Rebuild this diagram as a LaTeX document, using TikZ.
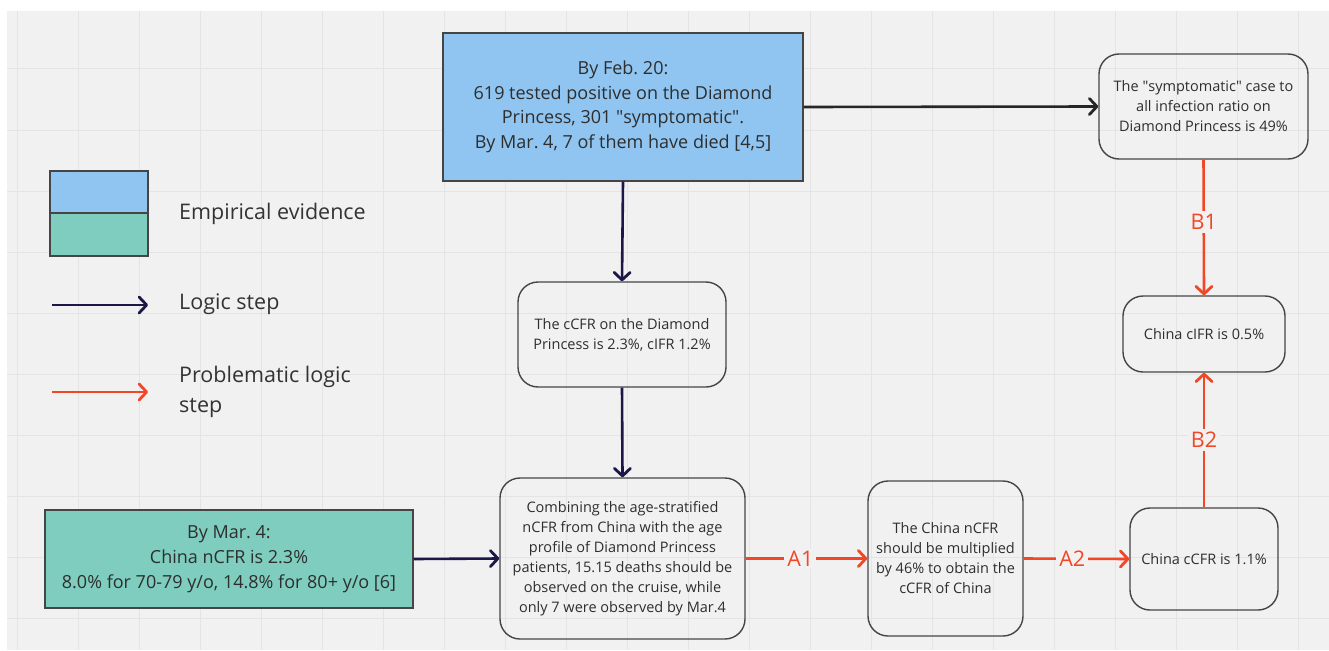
\documentclass[tikz,border=0pt]{standalone}
\usepackage{fontspec}
\setmainfont{Open Sans}
\usetikzlibrary{arrows.meta}
\definecolor{bgc}{HTML}{F1F1F1}
\definecolor{gridc}{HTML}{E4E4E4}
\definecolor{evblue}{HTML}{8FC5F0}
\definecolor{evgreen}{HTML}{7ECDBE}
\definecolor{navyc}{HTML}{1B1848}
\definecolor{redc}{HTML}{F24726}
\definecolor{boxline}{HTML}{454545}
\definecolor{txtc}{HTML}{2E2E2E}
\newcommand{\qq}{\textquotedbl}
\tikzset{
  evbox/.style={draw=boxline, line width=1.4pt, inner sep=0pt, align=center, text=txtc},
  rbox/.style={draw=boxline, line width=1.4pt, rounded corners=20pt, inner sep=0pt, align=center, text=txtc, font=\fontsize{14.5}{20}\selectfont},
  tipc/.style={-{Straight Barb[length=7.5pt,width=16pt,line width=2.8pt,round]}},
  navyarr/.style={tipc, draw=navyc, line width=2.6pt},
  blackarr/.style={tipc, draw=black!85, line width=2.6pt},
  redarr/.style={tipc, draw=redc, line width=2.6pt},
  lbl/.style={fill=bgc, text=redc, inner sep=3pt, font=\fontsize{21.5}{24}\selectfont},
  legtxt/.style={anchor=west, inner sep=0pt, text=black!80, font=\fontsize{21.5}{30}\selectfont, align=left}
}
\begin{document}
\frenchspacing
\begin{tikzpicture}[x=1pt,y=-1pt]
\useasboundingbox (0,0) rectangle (1329,650);
\fill[white] (0,0) rectangle (1329,650);
\fill[bgc] (7,11) rectangle (1329,650);
\foreach \x in {17,78,...,1329} \draw[gridc, line width=1pt] (\x,11) -- (\x,650);
\foreach \y in {69,130,...,650} \draw[gridc, line width=1pt] (7,\y) -- (1329,\y);

% legend
\node[evbox, fill=evblue, minimum width=98pt, minimum height=42pt] (legb) at (99,192) {};
\node[evbox, fill=evgreen, minimum width=98pt, minimum height=43pt] (legg) at (99,234.5) {};
\node[legtxt] (legt1) at (179,214) {Empirical evidence};
\coordinate (l1a) at (52,305); \coordinate (l1b) at (148,305);
\draw[navyarr] (l1a) -- (l1b);
\node[legtxt] (legt2) at (179,304) {Logic step};
\coordinate (l2a) at (52,392); \coordinate (l2b) at (148,392);
\draw[redarr] (l2a) -- (l2b);
\node[legtxt] (legt3) at (179,392) {Problematic logic\\step};

% main nodes
\node[evbox, fill=evblue, minimum width=360pt, minimum height=148pt, font=\fontsize{18}{24.6}\selectfont] (ev1) at (623,107)
  {By Feb. 20:\\619 tested positive on the Diamond\\Princess, 301 \qq symptomatic\qq.\\By Mar. 4, 7 of them have died [4,5]};
\node[evbox, fill=evgreen, minimum width=368pt, minimum height=98pt, font=\fontsize{18}{25}\selectfont] (ev2) at (229,559)
  {By Mar. 4:\\China nCFR is 2.3\%\\8.0\% for 70-79 y/o, 14.8\% for 80+ y/o [6]};
\node[rbox, minimum width=209pt, minimum height=105pt] (sym) at (1203.5,106.5)
  {The \qq symptomatic\qq{} case to\\all infection ratio on\\Diamond Princess is 49\%};
\node[rbox, minimum width=162pt, minimum height=76pt] (cifr) at (1204,334) {China cIFR is 0.5\%};
\node[rbox, minimum width=208pt, minimum height=105pt] (dcfr) at (622,334.5)
  {The cCFR on the Diamond\\Princess is 2.3\%, cIFR 1.2\%};
\node[rbox, minimum width=245pt, minimum height=161pt] (comb) at (622.5,558.5)
  {Combining the age-stratified\\nCFR from China with the age\\profile of Diamond Princess\\patients, 15.15 deaths should be\\observed on the cruise, while\\only 7 were observed by Mar.4};
\node[rbox, minimum width=155pt, minimum height=155pt] (mult) at (945.5,558.5)
  {The China nCFR\\should be multiplied\\by 46\% to obtain the\\cCFR of China};
\node[rbox, minimum width=148pt, minimum height=102pt] (ccfr) at (1204,559) {China cCFR is 1.1\%};

% connectors
\draw[navyarr] (ev1.south) -- (dcfr.north);
\draw[blackarr] (ev1.east) -- (sym.west);
\draw[navyarr] (dcfr.south) -- (comb.north);
\draw[navyarr] (ev2.east) -- (comb.west);
\draw[redarr] (comb.east) -- node[lbl, pos=0.45] {A1} (mult.west);
\draw[redarr] (mult.east) -- node[lbl, pos=0.46] {A2} (ccfr.west);
\draw[redarr] (sym.south) -- node[lbl, pos=0.46] {B1} (cifr.north);
\draw[redarr] (ccfr.north) -- node[lbl, pos=0.5] {B2} (cifr.south);
\end{tikzpicture}
\end{document}
